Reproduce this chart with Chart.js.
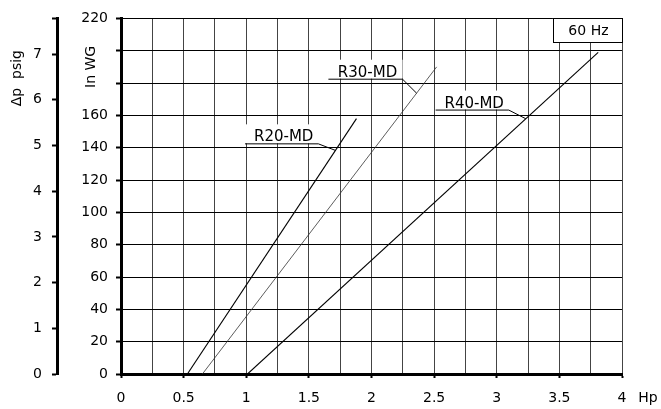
<!DOCTYPE html>
<html>
<head>
<meta charset="utf-8">
<script src="https://cdn.jsdelivr.net/npm/chart.js@4/dist/chart.umd.min.js"></script>
<style>
  html, body { margin: 0; padding: 0; background: #fff; }
  #wrap { width: 661px; height: 409px; position: relative; }
</style>
</head>
<body>
<div id="wrap"><canvas id="c" width="661" height="409"></canvas></div>
<script>
// ---- data ----
const seriesNames = ['R20-MD', 'R30-MD', 'R40-MD'];
const r20Hp = [0.53, 1.88];
const r20Wg = [0, 158];
const r30Hp = [0.65, 2.52];
const r30Wg = [0, 190];
const r40Hp = [1.01, 3.81];
const r40Wg = [0, 199];

const xTicks = [0, 0.5, 1, 1.5, 2, 2.5, 3, 3.5, 4];
const wgHiddenTicks = [180, 200];
const psigTicks = [0, 1, 2, 3, 4, 5, 6, 7];
const psigMax = 7.78;

// label annotations, in data units: underline start/end Hp, underline inWG, leader target Hp
const labelUnderStart = [0.99, 1.656, 2.512];
const labelUnderEnd = [1.576, 2.248, 3.096];
const labelUnderWg = [142.7, 182.7, 163.6];
const labelLeaderHp = [1.712, 2.36, 3.232];

const freqText = '60 Hz';
const yTitle = 'In WG';
const y2Title = '\u0394p  psig';
const xTitle = 'Hp';

const FONT = 'DejaVu Sans';
Chart.defaults.font.family = FONT;
Chart.defaults.font.size = 14;
Chart.defaults.color = '#000';

function pts(xs, ys) { return xs.map((v, i) => ({ x: v, y: ys[i] })); }
const seriesData = [pts(r20Hp, r20Wg), pts(r30Hp, r30Wg), pts(r40Hp, r40Wg)];

function valueOnSeries(idx, hp) {
  const d = seriesData[idx];
  const a = d[0], b = d[d.length - 1];
  return a.y + (hp - a.x) * (b.y - a.y) / (b.x - a.x);
}

const bgPlugin = {
  id: 'bg',
  beforeDraw(chart) {
    const ctx = chart.ctx;
    ctx.save();
    ctx.fillStyle = '#fff';
    ctx.fillRect(0, 0, chart.width, chart.height);
    ctx.restore();
  }
};

const annoPlugin = {
  id: 'anno',
  afterDatasetsDraw(chart) {
    const ctx = chart.ctx;
    const xs = chart.scales.x, ys = chart.scales.y, y2 = chart.scales.y2;
    ctx.save();
    // series labels
    for (let i = 0; i < seriesNames.length; i++) {
      const x0 = xs.getPixelForValue(labelUnderStart[i]);
      const x1 = xs.getPixelForValue(labelUnderEnd[i]);
      const yu = ys.getPixelForValue(labelUnderWg[i]);
      const lx = xs.getPixelForValue(labelLeaderHp[i]);
      const ly = ys.getPixelForValue(valueOnSeries(i, labelLeaderHp[i]));
      ctx.fillStyle = '#fff';
      ctx.fillRect(x0, yu - 19, x1 - x0, 19);
      ctx.strokeStyle = '#000';
      ctx.lineWidth = 1;
      ctx.beginPath();
      ctx.moveTo(x0, yu + 0.5);
      ctx.lineTo(x1, yu + 0.5);
      ctx.lineTo(lx, ly);
      ctx.stroke();
      ctx.fillStyle = '#000';
      ctx.font = '15px ' + FONT;
      ctx.textAlign = 'center';
      ctx.textBaseline = 'alphabetic';
      ctx.fillText(seriesNames[i], (x0 + x1) / 2 + 2, yu - 2);
    }
    ctx.font = '14px ' + FONT;
    // 60 Hz box
    const bx0 = xs.getPixelForValue(3.448);
    const bx1 = xs.getPixelForValue(4);
    const by0 = ys.getPixelForValue(220);
    const by1 = ys.getPixelForValue(205.4);
    ctx.fillStyle = '#fff';
    ctx.fillRect(bx0, by0, bx1 - bx0, by1 - by0);
    ctx.strokeStyle = '#000';
    ctx.lineWidth = 1;
    ctx.strokeRect(Math.round(bx0) + 0.5, Math.round(by0) + 0.5, Math.round(bx1 - bx0), Math.round(by1 - by0));
    ctx.fillStyle = '#000';
    ctx.textAlign = 'center';
    ctx.textBaseline = 'middle';
    ctx.fillText(freqText, (bx0 + bx1) / 2 + 1, (by0 + by1) / 2 + 1);
    // axis titles
    ctx.save();
    ctx.translate(chart.chartArea.left - 30, ys.getPixelForValue(190));
    ctx.rotate(-Math.PI / 2);
    ctx.textAlign = 'center';
    ctx.textBaseline = 'middle';
    ctx.fillText(yTitle, 0, 0);
    ctx.restore();
    ctx.save();
    ctx.translate(y2.left + 17, ys.getPixelForValue(183));
    ctx.rotate(-Math.PI / 2);
    ctx.textAlign = 'center';
    ctx.textBaseline = 'middle';
    ctx.fillText(y2Title, 0, 0);
    ctx.restore();
    ctx.textAlign = 'center';
    ctx.textBaseline = 'middle';
    ctx.fillText(xTitle, xs.getPixelForValue(4) + 26, chart.chartArea.bottom + 24);
    ctx.restore();
  }
};

new Chart(document.getElementById('c'), {
  type: 'scatter',
  data: {
    datasets: seriesNames.map((n, i) => ({
      label: n,
      data: seriesData[i],
      showLine: true,
      pointRadius: 0,
      borderColor: i === 1 ? '#333' : '#000',
      borderWidth: i === 1 ? 0.8 : 1.1,
      xAxisID: 'x',
      yAxisID: 'y'
    }))
  },
  options: {
    responsive: false,
    animation: false,
    devicePixelRatio: 1,
    layout: { padding: { top: 16, right: 39, bottom: 0, left: 0 } },
    plugins: { legend: { display: false }, tooltip: { enabled: false } },
    scales: {
      x: {
        type: 'linear',
        position: 'bottom',
        min: 0, max: 4,
        afterFit(s) { s.height = 35; },
        ticks: {
          stepSize: 0.25,
          padding: 12,
          maxRotation: 0,
          autoSkip: false,
          callback(v) { return xTicks.includes(v) ? String(v) : ''; }
        },
        grid: {
          color: '#444',
          lineWidth: 1,
          tickLength: 4,
          tickWidth: 2,
          tickColor(ctx) { return (ctx.index % 2 === 0) ? '#000' : 'rgba(0,0,0,0)'; }
        },
        border: { display: true, color: '#000', width: 3 }
      },
      y: {
        type: 'linear',
        position: 'left',
        weight: 0,
        min: 0, max: 220,
        afterFit(s) { s.width = 64; },
        ticks: {
          stepSize: 20,
          padding: 8,
          autoSkip: false,
          callback(v) { return wgHiddenTicks.includes(v) ? '' : String(v); }
        },
        grid: { color: '#000', lineWidth: 1, tickLength: 5, tickWidth: 2, tickColor: '#000' },
        border: { display: true, color: '#000', width: 3 }
      },
      y2: {
        type: 'linear',
        position: 'left',
        weight: 1,
        min: 0, max: psigMax,
        afterFit(s) { s.width = 57; },
        ticks: {
          stepSize: 1,
          padding: 10,
          autoSkip: false,
          callback(v) { return psigTicks.includes(v) ? String(v) : ''; }
        },
        grid: { drawOnChartArea: false, tickLength: 5, tickWidth: 2, tickColor: '#000' },
        border: { display: true, color: '#000', width: 3 }
      }
    }
  },
  plugins: [bgPlugin, annoPlugin]
});
</script>
</body>
</html>
